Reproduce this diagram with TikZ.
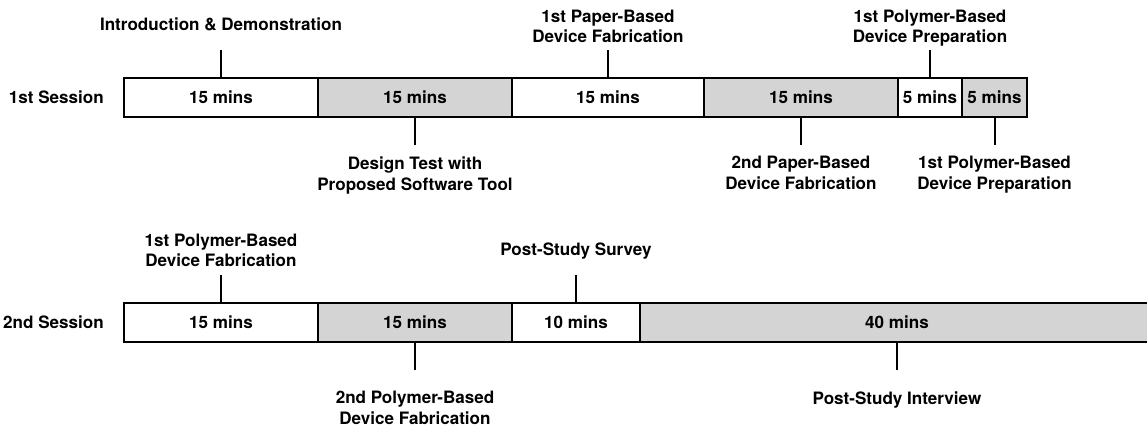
\documentclass[tikz,border=0pt]{standalone}
\usepackage{fontspec}
\setmainfont{TeX Gyre Heros}
\usepackage{tikz}
\usetikzlibrary{positioning}
\definecolor{SlotG}{RGB}{212,212,212}
\definecolor{SlotW}{RGB}{255,255,255}

\begin{document}
\begin{tikzpicture}[x=0.75pt,y=0.75pt,
    txt/.style={font=\bfseries\fontsize{12.8}{15.5}\selectfont},
    slot/.style={txt,draw=black,line width=1.5pt,minimum height=29.25pt,inner sep=0pt},
    uplab/.style={txt,align=center,inner sep=0pt,text depth=0pt},
    dnlab/.style={txt,align=center,inner sep=0pt},
    sess/.style={txt,inner sep=0pt},
    tick/.style={black,line width=1.5pt}]
  \useasboundingbox (0,0) rectangle (1147,426);
  \clip (0,0) rectangle (1147,426);
  % first session
  \foreach \n/\a/\b/\c/\t in {a1/124/318/SlotW/15 mins,a2/318/512/SlotG/15 mins,
                              a3/512/704/SlotW/15 mins,a4/704/898/SlotG/15 mins,
                              a5/898/962/SlotW/5 mins,a6/962/1027/SlotG/5 mins}
    \node[slot,fill=\c,minimum width={(\b-\a)*0.75pt}] (\n) at ({(\a+\b)/2},328.5) {\t};
  % second session
  \foreach \n/\a/\b/\c/\t in {b1/124/318/SlotW/15 mins,b2/318/512/SlotG/15 mins,
                              b3/512/640/SlotW/10 mins,b4/640/1154/SlotG/40 mins}
    \node[slot,fill=\c,minimum width={(\b-\a)*0.75pt}] (\n) at ({(\a+\b)/2},103.5) {\t};
  \node[sess,left=14.25pt of a1] (s1) {1st Session};
  \node[sess,left=14.25pt of b1] (s2) {2nd Session};
  % labels above
  \foreach \s/\d/\t in {a1/14.25pt/{Introduction \& Demonstration},
                        a3/5.25pt/{1st Paper-Based\\Device Fabrication},
                        a5/5.25pt/{1st Polymer-Based\\Device Preparation},
                        b1/6pt/{1st Polymer-Based\\Device Fabrication},
                        b3/14.25pt/{Post-Study Survey}}{
    \coordinate[above=20.25pt of \s.north] (\s-up);
    \node[uplab,above=\d of \s-up] (\s-lab) {\t};
    \draw[tick] (\s) -- (\s-up);
  }
  % labels below
  \foreach \s/\d/\t in {a2/9pt/{Design Test with\\Proposed Software Tool},
                        a4/8.25pt/{2nd Paper-Based\\Device Fabrication},
                        a6/8.25pt/{1st Polymer-Based\\Device Preparation},
                        b2/15.75pt/{2nd Polymer-Based\\Device Fabrication},
                        b4/16.5pt/{Post-Study Interview}}{
    \coordinate[below=20.25pt of \s.south] (\s-dn);
    \node[dnlab,below=\d of \s-dn] (\s-lab) {\t};
    \draw[tick] (\s) -- (\s-dn);
  }
\end{tikzpicture}
\end{document}
